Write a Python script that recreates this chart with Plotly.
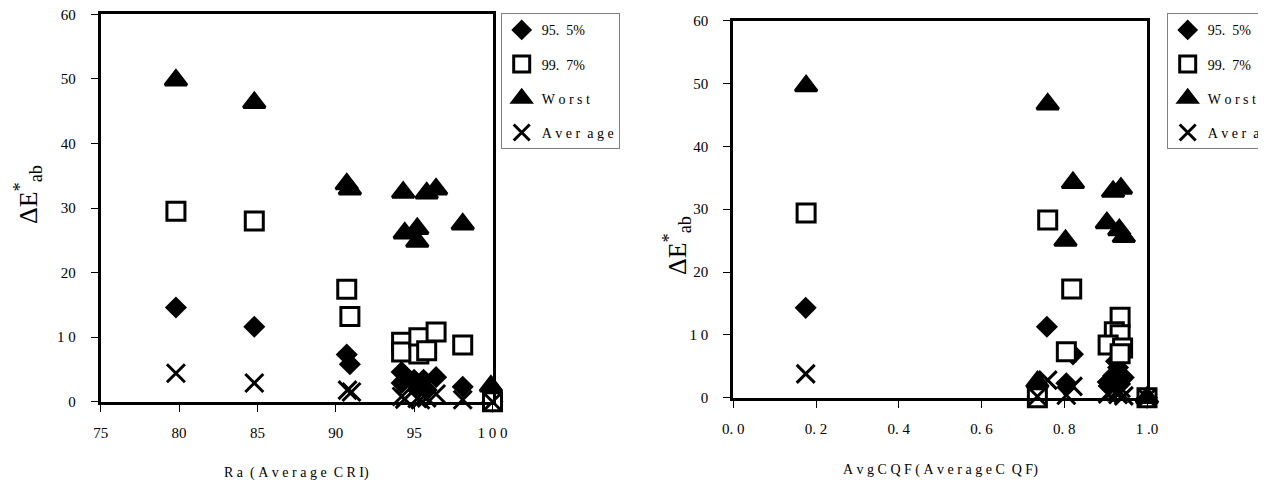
import plotly.graph_objects as go

# ---------------- data (left: Ra) ----------------
ra_p955_x = [79.8, 84.8, 90.7, 90.9, 94.2, 94.2, 95.0, 95.3, 95.6, 95.8, 96.4, 98.1, 100.0]
ra_p955_y = [14.6, 11.6, 7.3, 5.8, 4.6, 2.9, 3.4, 2.2, 3.4, 1.8, 3.8, 2.3, 0.0]
ra_p997_x = [79.8, 84.8, 90.7, 90.9, 94.2, 94.2, 95.3, 95.3, 95.8, 96.4, 98.1, 100.0]
ra_p997_y = [29.5, 28.0, 17.4, 13.2, 9.2, 7.7, 9.9, 7.4, 7.9, 10.8, 8.8, 0.0]
ra_worst_x = [79.8, 84.8, 90.7, 90.9, 94.3, 94.4, 95.2, 95.2, 95.8, 96.4, 98.1, 99.9]
ra_worst_y = [49.8, 46.3, 33.7, 32.9, 32.4, 26.1, 26.8, 24.8, 32.3, 32.9, 27.5, 2.4]
ra_avg_x = [79.8, 84.8, 90.75, 91.0, 94.2, 94.4, 95.2, 95.4, 95.8, 96.4, 98.1, 100.0]
ra_avg_y = [4.4, 2.9, 1.8, 1.5, 0.8, 0.4, 0.5, 0.3, 0.6, 1.2, 0.3, 0.0]

# ---------------- data (right: AvgCQF) ----------------
cqf_p955_x = [0.175, 0.758, 0.821, 0.805, 0.905, 0.918, 0.930, 0.935, 0.944, 0.925, 0.940, 1.0]
cqf_p955_y = [14.3, 11.3, 6.9, 2.3, 2.5, 3.5, 4.8, 2.2, 3.2, 5.8, 6.8, 0.0]
cqf_p997_x = [0.176, 0.760, 0.818, 0.805, 0.935, 0.921, 0.935, 0.906, 0.941, 0.935, 0.735, 1.0]
cqf_p997_y = [29.4, 28.3, 17.3, 7.3, 12.8, 10.5, 10.0, 8.4, 7.9, 7.0, 0.0, 0.0]
cqf_worst_x = [0.176, 0.760, 0.821, 0.918, 0.937, 0.903, 0.933, 0.944, 0.803, 0.735, 1.0]
cqf_worst_y = [49.6, 46.7, 34.2, 32.8, 33.3, 27.8, 26.7, 25.6, 25.0, 2.5, 0.0]
cqf_avg_x = [0.175, 0.760, 0.821, 0.805, 0.735, 0.905, 0.918, 0.930, 0.937, 0.944, 0.925, 1.0]
cqf_avg_y = [3.8, 2.8, 1.8, 0.4, 0.2, 0.6, 1.2, 0.5, 1.5, 0.3, 0.9, 0.0]

NB = "\u00a0"
series_names = ["95." + NB + NB + "5%", "99." + NB + NB + "7%",
                NB.join("Worst"), "A" + NB + "v" + NB + "e" + NB + "r" + NB + NB + "a" + NB + "g" + NB + "e"]

y_ticks = [0, 10, 20, 30, 40, 50, 60]
y_ticktext = ["0", "1" + NB + "0", "20", "30", "40", "50", "60"]
ra_ticks = [75, 80, 85, 90, 95, 100]
ra_ticktext = ["75", "80", "85", "90", "95", "1" + NB + "0" + NB + "0"]
cqf_ticks = [0.0, 0.2, 0.4, 0.6, 0.8, 1.0]
cqf_ticktext = ["0." + NB + "0", "0." + NB + "2", "0." + NB + "4", "0." + NB + "6", "0." + NB + "8", "1" + NB + ".0"]

FONT = "Liberation Serif, Times New Roman, serif"
# page body has an 8px margin: the figure is drawn 8px in and down
OFF = 8
W, H = 1266 - OFF, 483 - OFF


def px(x):
    return (x - OFF) / W


def py(y):
    return 1 - (y - OFF) / H


styles = [
    dict(symbol="diamond", size=17, color="black", line=dict(width=0)),
    dict(symbol="square", size=18, color="white", line=dict(color="black", width=3)),
    dict(symbol="triangle-up", size=19, color="black", line=dict(color="black", width=3)),
    dict(symbol="x-thin", size=18, color="black", line=dict(color="black", width=3)),
]

fig = go.Figure()

left = [(ra_p955_x, ra_p955_y), (ra_p997_x, ra_p997_y), (ra_worst_x, ra_worst_y), (ra_avg_x, ra_avg_y)]
right = [(cqf_p955_x, cqf_p955_y), (cqf_p997_x, cqf_p997_y), (cqf_worst_x, cqf_worst_y), (cqf_avg_x, cqf_avg_y)]

for i, (xs, ys) in enumerate(left):
    fig.add_trace(go.Scatter(x=xs, y=ys, mode="markers", name=series_names[i], marker=styles[i],
                             xaxis="x", yaxis="y", cliponaxis=False, legend="legend",
                             legendgroup="L%d" % i))
for i, (xs, ys) in enumerate(right):
    fig.add_trace(go.Scatter(x=xs, y=ys, mode="markers", name=series_names[i], marker=styles[i],
                             xaxis="x2", yaxis="y2", cliponaxis=False, legend="legend2",
                             legendgroup="R%d" % i))

lx0, lx1 = px(100.7), px(492.5)
ly0, ly1 = py(401.7), py(14.3)
rx0, rx1 = px(733.3), px(1147.0)
ry0, ry1 = py(397.7), py(20.7)

tickfont = dict(family=FONT, size=15, color="black")
common = dict(showline=True, linecolor="black", linewidth=3, mirror=True, showgrid=False,
              zeroline=False, ticks="outside", ticklen=7, tickwidth=1, tickcolor="black",
              tickfont=tickfont, ticklabeloverflow="allow")
inner = dict(ticks="inside", ticklen=7, tickwidth=1, tickcolor="black", showticklabels=False,
             showline=False, showgrid=False, zeroline=False)

legend_common = dict(xanchor="left", yanchor="top", bgcolor="white", bordercolor="#808080",
                     borderwidth=1, font=dict(family=FONT, size=14, color="black"),
                     tracegroupgap=13, traceorder="grouped", itemclick=False, itemdoubleclick=False)

fig.update_layout(
    width=W, height=H,
    margin=dict(l=0, r=0, t=0, b=0, autoexpand=False),
    paper_bgcolor="white", plot_bgcolor="white",
    showlegend=True,
    xaxis=dict(domain=[lx0, lx1], range=[75, 100], anchor="y", tickvals=ra_ticks,
               ticktext=ra_ticktext, ticklabelstandoff=8, **common),
    yaxis=dict(domain=[ly0, ly1], range=[0, 60], anchor="x", tickvals=y_ticks,
               ticktext=y_ticktext, ticklabelstandoff=12, **common),
    xaxis2=dict(domain=[rx0, rx1], range=[0, 1], anchor="y2", tickvals=cqf_ticks,
                ticktext=cqf_ticktext, ticklabelstandoff=8, **common),
    yaxis2=dict(domain=[ry0, ry1], range=[0, 60], anchor="x2", tickvals=y_ticks,
                ticktext=y_ticktext, ticklabelstandoff=12, **common),
    xaxis3=dict(overlaying="x", anchor="y", range=[75, 100], tickvals=ra_ticks, **inner),
    yaxis3=dict(overlaying="y", anchor="x", range=[0, 60], tickvals=y_ticks, **inner),
    xaxis4=dict(overlaying="x2", anchor="y2", range=[0, 1], tickvals=cqf_ticks, **inner),
    yaxis4=dict(overlaying="y2", anchor="x2", range=[0, 60], tickvals=y_ticks, **inner),
    legend=dict(x=px(500.7), y=py(13.3), **legend_common),
    legend2=dict(x=px(1166.7), y=py(13.3), **legend_common),
)

title_font = dict(family=FONT, size=14, color="black")
ytitle_font = dict(family=FONT, size=26, color="black")
xt1 = "R" + NB + "a" + NB + NB + "(" + NB + NB.join("Aver") + NB + NB.join("age") + NB + NB + NB.join("CRI") + ")"
xt2 = NB.join("AvgCQF") + NB + "(" + NB + NB.join("Aver") + NB + NB.join("age") + NB + "C" + NB + NB + "Q" + NB + "F" + ")"
annos = [
    dict(text=xt1, x=(lx0 + lx1) / 2, y=py(473), font=title_font),
    dict(text=xt2, x=(rx0 + rx1) / 2, y=py(470), font=title_font),
    dict(text="\u0394E<sup>*</sup><sub>ab</sub>", x=px(28), y=py(195), textangle=-90,
         font=ytitle_font),
    dict(text="\u0394E<sup>*</sup><sub>ab</sub>", x=px(677), y=py(246), textangle=-90,
         font=ytitle_font),
]
for a in annos:
    fig.add_annotation(xref="paper", yref="paper", showarrow=False, xanchor="center",
                       yanchor="middle", **a)

fig.write_html("out.html")
